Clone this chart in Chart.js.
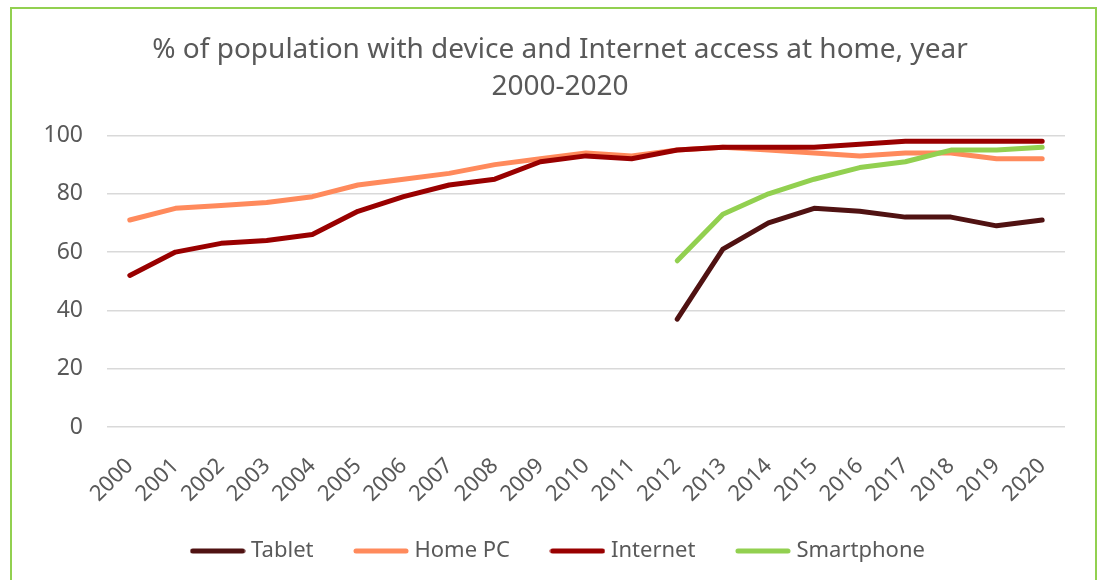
<!DOCTYPE html>
<html>
<head>
<meta charset="utf-8">
<script src="https://cdn.jsdelivr.net/npm/chart.js@4"></script>
<style>
  html, body { margin: 0; padding: 0; background: #fff; }
  #wrap { position: relative; width: 1102px; height: 580px; overflow: hidden; }
  #frame {
    position: absolute; left: 10px; top: 7px; width: 1083px; height: 600px;
    border: 2px solid #92D050; pointer-events: none;
  }
</style>
</head>
<body>
<div id="wrap">
  <canvas id="chart" width="1102" height="580"></canvas>
  <div id="frame"></div>
</div>
<script>
const years = ['2000', '2001', '2002', '2003', '2004', '2005', '2006', '2007', '2008', '2009', '2010',
  '2011', '2012', '2013', '2014', '2015', '2016', '2017', '2018', '2019', '2020'];
const tablet = [null, null, null, null, null, null, null, null, null, null, null, null,
  37, 61, 70, 75, 74, 72, 72, 69, 71];
const homePC = [71, 75, 76, 77, 79, 83, 85, 87, 90, 92, 94, 93, 95, 96, 95, 94, 93, 94, 94, 92, 92];
const internet = [52, 60, 63, 64, 66, 74, 79, 83, 85, 91, 93, 92, 95, 96, 96, 96, 97, 98, 98, 98, 98];
const smartphone = [null, null, null, null, null, null, null, null, null, null, null, null,
  57, 73, 80, 85, 89, 91, 95, 95, 96];

const FONT = 'Noto Sans';
const GREY = '#595959';

function series(label, data, color, order) {
  return {
    label: label,
    data: data,
    borderColor: color,
    backgroundColor: color,
    borderWidth: 5,
    borderCapStyle: 'round',
    borderJoinStyle: 'round',
    pointRadius: 0,
    pointHoverRadius: 0,
    tension: 0,
    fill: false,
    order: order
  };
}

// small rounded line used as legend marker
function legendLine(color) {
  const c = document.createElement('canvas');
  c.width = 56;
  c.height = 6;
  const g = c.getContext('2d');
  g.strokeStyle = color;
  g.lineWidth = 5;
  g.lineCap = 'round';
  g.beginPath();
  g.moveTo(3, 3);
  g.lineTo(53, 3);
  g.stroke();
  return c;
}

new Chart(document.getElementById('chart').getContext('2d'), {
  type: 'line',
  data: {
    labels: years,
    datasets: [
      series('Tablet', tablet, '#501212', 4),
      series('Home PC', homePC, '#FF8A5C', 3),
      series('Internet', internet, '#990000', 2),
      series('Smartphone', smartphone, '#92D050', 1)
    ]
  },
  options: {
    responsive: false,
    animation: false,
    layout: { padding: { left: 20, right: 2, top: 0, bottom: 8 } },
    plugins: {
      title: {
        display: true,
        text: ['% of population with device and Internet access at home, year', '2000-2020'],
        color: GREY,
        font: { family: FONT, size: 28, weight: 'normal', lineHeight: 1.33 },
        padding: { top: 31, bottom: 30 }
      },
      legend: {
        position: 'bottom',
        labels: {
          color: GREY,
          font: { family: FONT, size: 22 },
          usePointStyle: true,
          pointStyleWidth: 45,
          boxHeight: 6,
          padding: 45,
          sort: (a, b) => a.datasetIndex - b.datasetIndex,
          generateLabels: chart => {
            const items = Chart.defaults.plugins.legend.labels.generateLabels(chart);
            items.forEach(it => {
              it.pointStyle = legendLine(chart.data.datasets[it.datasetIndex].borderColor);
              it.lineWidth = 0;
            });
            return items;
          }
        }
      },
      tooltip: { enabled: false }
    },
    scales: {
      x: {
        offset: true,
        grid: { display: false, drawTicks: false },
        border: { display: false },
        ticks: {
          color: GREY,
          font: { family: FONT, size: 22 },
          minRotation: 45,
          maxRotation: 45,
          padding: 26
        },
        afterFit: scale => {
          scale.height = 68;
          // the year labels hang a bit below the axis box, don't clip them
          scale._computeLabelArea = () => undefined;
        }
      },
      y: {
        min: 0,
        max: 100,
        grid: { color: '#D9D9D9', lineWidth: 1.5, drawTicks: false },
        border: { display: false },
        ticks: {
          stepSize: 20,
          color: GREY,
          font: { family: FONT, size: 23 },
          padding: 24
        },
        afterFit: scale => { scale.width = 87; }
      },
      // empty right axis, only reserves space so the plot ends where the original does
      yRight: {
        position: 'right',
        grid: { display: false, drawTicks: false },
        border: { display: false },
        ticks: { display: false },
        afterFit: scale => { scale.width = 35; }
      }
    }
  }
});
</script>
</body>
</html>
